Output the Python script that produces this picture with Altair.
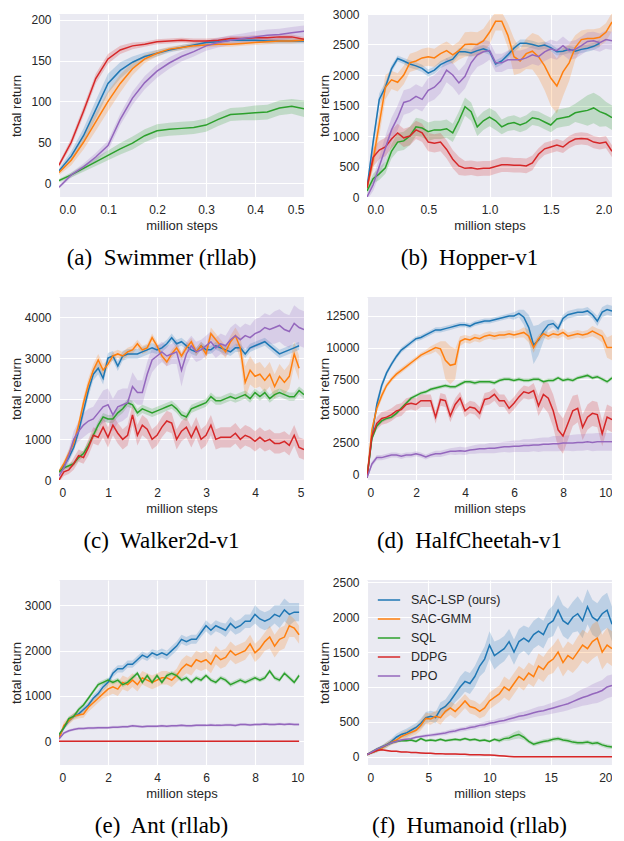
import altair as alt
import pandas as pd

METHODS = ["SAC-LSP (ours)", "SAC-GMM", "SQL", "DDPG", "PPO"]
COLORS = ["#1f77b4", "#ff7f0e", "#2ca02c", "#d62728", "#9467bd"]

# ---------------- (a) Swimmer (rllab): x step 0.025 million steps ----------------
SW_STEP = 0.025
SW_LSP = [15, 33, 58, 90, 122, 138, 148, 155, 159, 163, 166, 169, 172, 173, 175, 175, 175, 174, 174, 174, 174]
SW_LSP_B = [3, 6, 9, 11, 12, 10, 7, 5, 4, 3, 3, 3, 3, 3, 3, 3, 3, 3, 3, 3, 3]
SW_GMM = [13, 28, 50, 75, 100, 122, 140, 152, 159, 164, 166, 168, 169, 170, 170, 171, 172, 173, 174, 174, 175]
SW_GMM_B = [3, 6, 9, 11, 12, 11, 8, 5, 4, 3, 3, 3, 3, 3, 3, 3, 3, 3, 3, 3, 3]
SW_SQL = [3, 10, 18, 26, 34, 42, 49, 58, 64, 66, 67, 68, 71, 78, 84, 85, 86, 87, 92, 94, 91]
SW_SQL_B = [2, 3, 4, 5, 6, 7, 8, 8, 8, 8, 8, 8, 8, 8, 8, 8, 9, 9, 9, 9, 10]
SW_DDPG = [22, 50, 88, 128, 152, 163, 168, 170, 173, 174, 175, 174, 174, 175, 177, 177, 178, 178, 179, 179, 176]
SW_DDPG_B = [3, 5, 6, 6, 6, 5, 4, 3, 3, 3, 3, 3, 3, 3, 3, 3, 3, 3, 3, 3, 3]
SW_PPO = [-5, 10, 20, 32, 46, 78, 104, 123, 137, 147, 155, 161, 168, 172, 175, 177, 179, 181, 182, 184, 186]
SW_PPO_B = [2, 3, 4, 5, 6, 7, 8, 8, 8, 7, 6, 6, 6, 6, 6, 6, 7, 7, 7, 7, 7]

# ---------------- (b) Hopper-v1: x step 0.05 ----------------
HO_STEP = 0.05
HO_LSP = [150, 900, 1600, 1800, 2100, 2270, 2230, 2180, 2150, 2110,
          2030, 2080, 2170, 2220, 2260, 2380, 2380, 2360, 2400, 2430,
          2390, 2180, 2230, 2330, 2440, 2520, 2520, 2500, 2470, 2490,
          2450, 2380, 2390, 2420, 2390, 2420, 2440, 2470, 2520]
HO_LSP_B = [50, 100, 100, 80, 60, 50, 50, 60, 60, 60,
            60, 60, 60, 60, 60, 60, 60, 60, 60, 60,
            60, 60, 60, 60, 60, 60, 60, 60, 60, 60,
            60, 60, 60, 60, 60, 60, 60, 60, 60]
HO_GMM = [150, 600, 1200, 1800, 1920, 1880, 2000, 2200, 2230, 2280,
          2300, 2280, 2350, 2400, 2330, 2400, 2500, 2510, 2500, 2560,
          2700, 2880, 2880, 2650, 2300, 2230, 2350, 2390, 2300, 2150,
          1950, 1820, 2050, 2200, 2450, 2580, 2600, 2600, 2620, 2700, 2870]
HO_GMM_B = [50, 150, 200, 200, 150, 150, 150, 150, 150, 150,
            150, 150, 150, 150, 150, 150, 200, 200, 200, 200,
            200, 150, 150, 200, 300, 200, 250, 300, 350, 400,
            450, 450, 400, 300, 200, 150, 150, 150, 150, 150, 150]
HO_SQL = [100, 300, 380, 480, 750, 900, 920, 1000, 1150, 1130,
          1070, 1100, 1100, 1120, 1050, 1250, 1480, 1400, 1150, 1250,
          1310, 1250, 1150, 1200, 1220, 1180, 1220, 1300, 1280, 1230,
          1180, 1280, 1300, 1320, 1380, 1400, 1420, 1460, 1400, 1360, 1300]
HO_SQL_B = [50, 80, 100, 100, 120, 150, 150, 150, 150, 150,
            150, 150, 150, 150, 150, 150, 150, 150, 150, 150,
            150, 150, 120, 120, 120, 120, 120, 120, 120, 120,
            120, 150, 150, 150, 150, 200, 250, 250, 250, 200, 200]
HO_DDPG = [150, 650, 770, 820, 950, 1050, 970, 1000, 1100, 1050,
           900, 880, 900, 780, 620, 510, 470, 480, 460, 470,
           470, 500, 530, 530, 520, 520, 510, 560, 700, 790,
           820, 850, 820, 900, 950, 960, 950, 900, 880, 900, 750]
HO_DDPG_B = [50, 150, 150, 150, 150, 150, 150, 150, 150, 150,
             150, 150, 150, 150, 150, 150, 120, 120, 120, 120,
             120, 120, 120, 120, 120, 120, 120, 120, 100, 100,
             100, 100, 100, 100, 100, 100, 100, 100, 100, 100, 100]
HO_PPO = [0, 200, 500, 800, 1100, 1300, 1550, 1580, 1650, 1600,
          1750, 1800, 1900, 2080, 2000, 1870, 1980, 2200, 2330, 2380,
          2400, 2200, 2200, 2250, 2250, 2250, 2280, 2330, 2300, 2380,
          2430, 2400, 2480, 2400, 2420, 2480, 2550, 2560, 2530, 2580, 2560]
HO_PPO_B = [50, 100, 150, 200, 200, 200, 200, 200, 200, 200,
            200, 200, 200, 200, 200, 200, 200, 200, 200, 200,
            150, 150, 150, 150, 150, 150, 150, 150, 150, 150,
            150, 150, 150, 150, 150, 150, 150, 150, 150, 150, 150]

# ---------------- (c) Walker2d-v1: x step 0.1 ----------------
WA_STEP = 0.1
WA_LSP = [200, 350, 550, 800, 1200, 1700, 2200, 2600, 2750, 2500,
          3000, 3050, 2800, 3050, 3100, 3100, 3100, 3150, 3200, 3250,
          3200, 3250, 3350, 3500, 3350, 3400, 3300, 3200, 3150, 3300,
          3200, 3200, 3300, 3250, 3200, 3150, 3250, 3250, 3100, 3250,
          3300, 3350, 3400, 3300, 3200, 3100, 3150, 3200, 3250, 3300]
WA_LSP_B = [50, 80, 100, 100, 120, 150, 150, 150, 150, 150,
            120, 120, 120, 120, 120, 120, 120, 120, 120, 120,
            100, 100, 100, 100, 100, 100, 100, 100, 100, 100,
            100, 100, 100, 100, 100, 100, 100, 100, 100, 100,
            100, 100, 100, 100, 100, 100, 100, 100, 100, 100]
WA_GMM = [200, 400, 650, 900, 1350, 1900, 2350, 2700, 2950, 2700,
          2850, 3050, 3100, 3050, 3150, 3200, 3350, 3200, 3250, 3500,
          3300, 3050, 2900, 3100, 3250, 3050, 3250, 3400, 3150, 3300,
          3100, 3600, 3450, 3300, 3150, 3400, 3550, 3250, 2400, 2700,
          2550, 2600, 2450, 2600, 2300, 2550, 2400, 2550, 3100, 2750]
WA_GMM_B = [50, 80, 100, 100, 120, 150, 150, 150, 150, 150,
            100, 100, 100, 100, 100, 100, 100, 100, 100, 100,
            100, 100, 100, 100, 100, 100, 100, 100, 100, 100,
            150, 150, 150, 150, 150, 150, 200, 300, 400, 350,
            300, 300, 300, 300, 300, 300, 300, 300, 300, 300]
WA_SQL = [200, 300, 350, 400, 550, 650, 850, 1100, 1350, 1550,
          1500, 1500, 1650, 1750, 1900, 1850, 1650, 1750, 1700, 1650,
          1700, 1750, 1800, 1850, 1750, 1600, 1550, 1750, 1800, 1850,
          1900, 2050, 1950, 1950, 2000, 2050, 2000, 2050, 2100, 2000,
          2150, 2050, 2150, 2000, 2100, 2150, 2100, 2050, 2050, 2200, 2100]
WA_SQL_B = [30, 50, 60, 60, 80, 80, 100, 100, 100, 100,
            100, 100, 100, 100, 100, 100, 100, 100, 100, 100,
            100, 100, 100, 100, 100, 100, 100, 100, 100, 100,
            100, 100, 100, 100, 100, 100, 100, 100, 100, 100,
            100, 100, 100, 100, 100, 100, 100, 100, 100, 100, 100]
WA_DDPG = [0, 200, 250, 400, 600, 550, 800, 1100, 1050, 1300,
           1050, 1350, 1150, 1000, 1100, 1600, 1100, 1350, 1250, 1000,
           1100, 1300, 1450, 1400, 1000, 1200, 1300, 1050, 1300, 1000,
           1100, 1350, 1000, 1050, 1050, 1050, 1150, 1000, 1100, 1050,
           950, 1050, 950, 1000, 900, 900, 950, 850, 1100, 800, 750]
WA_DDPG_B = [50, 100, 100, 150, 150, 150, 200, 200, 200, 250,
             250, 250, 250, 250, 250, 250, 250, 250, 250, 250,
             250, 250, 250, 250, 250, 250, 250, 250, 250, 250,
             250, 250, 250, 250, 250, 250, 250, 250, 250, 250,
             250, 250, 250, 250, 250, 250, 250, 250, 250, 250, 250]
WA_PPO = [100, 300, 600, 1000, 1200, 1350, 1450, 1500, 1650, 1800,
          1850, 1600, 1800, 1850, 1900, 2300, 2150, 2150, 2600, 2950,
          3050, 3150, 3050, 3100, 3150, 2700, 3100, 3300, 3150, 3200,
          3300, 3400, 3250, 3350, 3300, 3450, 3550, 3450, 3550, 3500,
          3600, 3650, 3750, 3700, 3750, 3800, 3700, 3650, 3850, 3750, 3700]
WA_PPO_B = [50, 100, 150, 200, 250, 300, 300, 300, 350, 400,
            400, 400, 400, 400, 350, 350, 300, 300, 300, 300,
            250, 250, 250, 250, 300, 400, 300, 250, 250, 250,
            250, 250, 250, 250, 250, 300, 300, 300, 300, 300,
            350, 350, 350, 350, 400, 400, 400, 400, 450, 450, 450]

# ---------------- (d) HalfCheetah-v1: x step 0.2 ----------------
HC_STEP = 0.2
HC_LSP = [-300, 3000, 5500, 7000, 8000, 8700, 9300, 9800, 10100, 10400,
          10700, 10800, 11000, 11200, 11400, 11400, 11500, 11600, 11700, 11800,
          11800, 11700, 11900, 12000, 12100, 12100, 12200, 12300, 12400, 12500,
          12500, 12700, 12400, 11600, 10200, 10600, 11300, 11800, 11900, 11500,
          12300, 12600, 12700, 12800, 12800, 12900, 12600, 12100, 12800, 13000, 12900]
HC_LSP_B = [100, 300, 400, 300, 200, 200, 200, 200, 200, 200,
            200, 200, 200, 200, 200, 200, 200, 200, 200, 200,
            200, 200, 200, 200, 200, 200, 200, 200, 200, 200,
            300, 300, 600, 1000, 1500, 1200, 800, 400, 300, 300,
            300, 300, 300, 300, 300, 300, 300, 400, 400, 400, 400]
HC_GMM = [-300, 3500, 5200, 6200, 7000, 7500, 7900, 8200, 8500, 8800,
          9100, 9400, 9600, 9800, 10000, 9900, 9000, 8600, 8700, 10500,
          10700, 10600, 10800, 10700, 10900, 11000, 10900, 11000, 11000, 11100,
          11000, 11100, 11200, 10900, 10000, 10700, 11100, 10900, 11100, 11000,
          11200, 10900, 11000, 11100, 11000, 11100, 11300, 11100, 10900, 10000, 10000]
HC_GMM_B = [100, 300, 300, 300, 200, 200, 200, 200, 200, 200,
            200, 200, 200, 300, 300, 600, 1500, 1500, 1200, 400,
            300, 300, 300, 300, 300, 300, 300, 300, 300, 300,
            300, 300, 400, 500, 400, 300, 300, 300, 300, 300,
            300, 300, 300, 300, 300, 300, 400, 400, 500, 800, 1000]
HC_SQL = [-300, 2800, 3800, 4200, 4400, 4500, 4800, 5200, 5600, 6000,
          6200, 6400, 6500, 6700, 6800, 6900, 7000, 6900, 6900, 7100,
          7300, 7300, 7200, 7300, 7300, 7300, 7200, 7400, 7500, 7500,
          7400, 7500, 7400, 7400, 7500, 7500, 7300, 7400, 7400, 7600,
          7400, 7500, 7400, 7600, 7700, 7800, 7600, 7700, 7500, 7300, 7600]
HC_SQL_B = [100, 150, 150, 150, 150, 150, 150, 150, 150, 150,
            150, 150, 150, 150, 150, 150, 150, 150, 150, 150,
            150, 150, 150, 150, 150, 150, 150, 150, 150, 150,
            150, 150, 150, 150, 150, 150, 150, 150, 150, 150,
            150, 150, 150, 150, 150, 150, 150, 150, 150, 150, 150]
HC_DDPG = [-300, 3000, 4000, 4400, 4500, 4700, 5000, 5100, 5500, 5600,
           5500, 5800, 5800, 5800, 4500, 5900, 5800, 4600, 5500, 6000,
           5000, 5300, 5200, 4800, 5900, 6000, 6300, 5800, 5800, 5200,
           5600, 6100, 6500, 6400, 6600, 5400, 6300, 6000, 5000, 3500,
           3000, 4000, 5000, 5200, 3700, 4500, 4800, 4700, 3200, 4500, 4300]
HC_DDPG_B = [100, 300, 500, 500, 500, 500, 500, 500, 500, 500,
             500, 500, 500, 500, 500, 500, 500, 500, 500, 500,
             500, 500, 500, 500, 500, 500, 500, 500, 500, 500,
             500, 500, 500, 500, 600, 800, 1000, 1200, 1300, 1400,
             1400, 1300, 1200, 1100, 1000, 1000, 1000, 1000, 1000, 1000, 1000]
HC_PPO = [-300, 800, 1300, 1300, 1400, 1500, 1500, 1400, 1500, 1500,
          1600, 1500, 1350, 1500, 1600, 1600, 1700, 1800, 1800, 1850,
          1800, 1900, 1950, 2000, 2000, 2050, 2050, 2100, 2150, 2150,
          2200, 2200, 2250, 2250, 2300, 2300, 2350, 2350, 2400, 2400,
          2450, 2450, 2450, 2500, 2500, 2550, 2500, 2550, 2550, 2550, 2550]
HC_PPO_B = [100, 200, 200, 200, 200, 200, 200, 200, 200, 200,
            200, 200, 200, 200, 250, 250, 250, 250, 300, 300,
            300, 300, 350, 350, 350, 400, 400, 400, 400, 450,
            450, 450, 500, 500, 500, 550, 550, 550, 600, 600,
            600, 600, 650, 650, 650, 650, 700, 700, 700, 700, 700]

# ---------------- (e) Ant (rllab): x step 0.2 ----------------
ANT_STEP = 0.2
ANT_LSP = [100, 300, 450, 550, 600, 700, 800, 950, 1050, 1200,
           1300, 1500, 1600, 1600, 1700, 1700, 1800, 1900, 1850, 1950,
           1900, 1950, 1900, 2000, 2100, 2250, 2200, 2250, 2250, 2400,
           2550, 2450, 2550, 2500, 2450, 2600, 2500, 2550, 2650, 2650,
           2800, 2700, 2650, 2700, 2800, 2750, 2900, 2800, 2850, 2850]
ANT_LSP_B = [30, 50, 60, 60, 60, 60, 70, 70, 80, 80,
             80, 80, 80, 80, 80, 80, 80, 80, 80, 80,
             100, 100, 100, 100, 100, 100, 100, 100, 100, 100,
             120, 120, 120, 120, 150, 150, 150, 150, 150, 150,
             200, 200, 200, 200, 200, 250, 250, 250, 200, 200]
ANT_GMM = [50, 350, 450, 550, 580, 600, 750, 850, 950, 1050,
           1150, 1200, 1150, 1300, 1250, 1350, 1250, 1400, 1350, 1300,
           1350, 1400, 1400, 1350, 1450, 1600, 1700, 1650, 1800, 1750,
           1800, 1700, 1900, 1800, 1850, 2000, 1900, 1950, 2000, 2150,
           1950, 2050, 2200, 2300, 2100, 2250, 2300, 2550, 2500, 2350]
ANT_GMM_B = [30, 80, 80, 80, 80, 80, 100, 100, 100, 100,
             150, 150, 150, 150, 150, 150, 150, 150, 150, 150,
             150, 150, 150, 150, 150, 200, 200, 200, 200, 200,
             200, 200, 200, 200, 200, 200, 200, 200, 200, 200,
             200, 200, 200, 250, 250, 250, 250, 250, 200, 200]
ANT_SQL = [150, 300, 500, 550, 700, 800, 950, 1100, 1250, 1300,
           1350, 1300, 1350, 1250, 1300, 1400, 1500, 1300, 1450, 1300,
           1450, 1300, 1450, 1500, 1450, 1350, 1400, 1300, 1400, 1350,
           1450, 1350, 1300, 1400, 1350, 1250, 1300, 1350, 1300, 1350,
           1400, 1350, 1400, 1550, 1400, 1350, 1500, 1400, 1300, 1450]
ANT_SQL_B = [30, 50, 50, 50, 50, 50, 50, 50, 50, 50,
             50, 50, 50, 50, 50, 50, 50, 50, 50, 50,
             50, 50, 50, 50, 50, 50, 50, 50, 50, 50,
             50, 50, 50, 50, 50, 50, 50, 50, 50, 50,
             50, 50, 50, 50, 50, 50, 50, 50, 50, 50]
ANT_DDPG = [0, 0, 0, 0, 0, 0, 0, 0, 0, 0,
            0, 0, 0, 0, 0, 0, 0, 0, 0, 0,
            0, 0, 0, 0, 0, 0, 0, 0, 0, 0,
            0, 0, 0, 0, 0, 0, 0, 0, 0, 0,
            0, 0, 0, 0, 0, 0, 0, 0, 0, 0]
ANT_DDPG_B = [12, 12, 12, 12, 12, 12, 12, 12, 12, 12,
              12, 12, 12, 12, 12, 12, 12, 12, 12, 12,
              12, 12, 12, 12, 12, 12, 12, 12, 12, 12,
              12, 12, 12, 12, 12, 12, 12, 12, 12, 12,
              12, 12, 12, 12, 12, 12, 12, 12, 12, 12]
ANT_PPO = [50, 180, 230, 260, 280, 280, 290, 290, 300, 300,
           300, 310, 310, 320, 320, 340, 330, 320, 330, 330,
           330, 340, 330, 340, 340, 350, 340, 340, 350, 350,
           350, 360, 350, 350, 360, 360, 350, 370, 370, 360,
           370, 370, 380, 370, 370, 380, 370, 380, 370, 370]
ANT_PPO_B = [20, 30, 30, 30, 30, 30, 30, 30, 30, 30,
             30, 30, 30, 30, 30, 30, 30, 30, 30, 30,
             30, 30, 30, 30, 30, 30, 30, 30, 30, 30,
             30, 30, 30, 30, 30, 30, 30, 30, 30, 30,
             30, 30, 30, 30, 30, 30, 30, 30, 30, 30]

# ---------------- (f) Humanoid (rllab): x step 0.4 ----------------
HU_STEP = 0.4
HU_LSP = [30, 60, 90, 130, 170, 220, 280, 320, 340, 380,
          420, 480, 560, 580, 560, 680, 720, 800, 900, 1000,
          1080, 1050, 1150, 1300, 1400, 1600, 1450, 1500, 1550, 1650,
          1500, 1650, 1700, 1650, 1750, 1800, 1750, 1900, 1950, 2100,
          1950, 1900, 2000, 2050, 1950, 2150, 2000, 1950, 2050, 2100, 1900]
HU_LSP_B = [20, 20, 30, 30, 40, 40, 50, 50, 60, 60,
            60, 70, 80, 80, 80, 100, 100, 120, 120, 150,
            150, 150, 150, 150, 180, 200, 200, 180, 180, 180,
            180, 180, 180, 200, 200, 200, 200, 200, 220, 220,
            220, 220, 220, 250, 250, 250, 250, 250, 250, 250, 250]
HU_GMM = [30, 60, 90, 120, 170, 210, 240, 290, 320, 350,
          380, 450, 550, 540, 580, 560, 650, 700, 650, 720,
          800, 720, 700, 650, 700, 800, 850, 900, 1000, 950,
          1050, 1150, 1100, 1200, 1150, 1300, 1250, 1350, 1400, 1500,
          1350, 1450, 1400, 1500, 1600, 1550, 1650, 1700, 1500, 1600, 1550]
HU_GMM_B = [20, 20, 30, 30, 40, 40, 50, 50, 60, 60,
            60, 70, 80, 80, 80, 100, 100, 100, 100, 100,
            100, 100, 100, 100, 120, 120, 120, 120, 150, 150,
            150, 150, 150, 150, 150, 180, 180, 180, 200, 200,
            200, 200, 200, 220, 220, 220, 250, 250, 250, 250, 250]
HU_SQL = [30, 70, 110, 140, 170, 200, 220, 230, 230, 240,
          220, 260, 230, 240, 230, 250, 230, 240, 250, 240,
          260, 240, 250, 230, 240, 220, 250, 230, 260, 270,
          300, 320, 280, 220, 180, 200, 220, 230, 250, 260,
          240, 230, 210, 200, 200, 210, 190, 200, 170, 150, 140]
HU_SQL_B = [10, 20, 20, 20, 20, 20, 20, 20, 20, 20,
            20, 20, 20, 20, 20, 20, 20, 20, 20, 20,
            20, 20, 20, 20, 20, 20, 20, 30, 30, 40,
            50, 60, 40, 30, 30, 30, 30, 30, 30, 30,
            30, 30, 30, 30, 30, 30, 30, 30, 30, 30, 30]
HU_DDPG = [30, 60, 90, 100, 90, 80, 80, 70, 70, 60,
           60, 55, 50, 50, 45, 45, 40, 40, 40, 35,
           35, 30, 30, 30, 25, 25, 20, 15, 10, 5,
           0, 0, 0, 0, 0, 0, 0, 0, 0, 0,
           0, 0, 0, 0, 0, 0, 0, 0, 0, 0, 0]
HU_DDPG_B = [10, 10, 10, 10, 10, 10, 10, 10, 10, 10,
             10, 10, 10, 10, 10, 10, 10, 10, 10, 10,
             10, 10, 10, 10, 10, 10, 10, 10, 10, 10,
             10, 10, 10, 10, 10, 10, 10, 10, 10, 10,
             10, 10, 10, 10, 10, 10, 10, 10, 10, 10, 10]
HU_PPO = [30, 70, 110, 140, 170, 200, 220, 240, 250, 260,
          280, 290, 300, 310, 320, 330, 340, 360, 370, 390,
          400, 420, 430, 450, 460, 480, 490, 510, 520, 540,
          560, 580, 590, 610, 630, 650, 660, 680, 700, 720,
          740, 760, 790, 820, 850, 870, 900, 920, 950, 1000, 1020]
HU_PPO_B = [10, 20, 20, 20, 20, 20, 20, 20, 20, 20,
            20, 20, 25, 25, 25, 25, 30, 30, 30, 30,
            30, 35, 35, 35, 40, 40, 40, 45, 45, 50,
            50, 55, 60, 60, 65, 70, 70, 75, 80, 85,
            90, 95, 100, 110, 120, 130, 140, 150, 150, 160, 160]

TEXT = "#262626"
SANS = "Liberation Sans"


def build(step, series):
    rows = []
    for name, vals, band in series:
        for i, (v, b) in enumerate(zip(vals, band)):
            rows.append({"x": round(i * step, 4), "y": v, "lo": v - b, "hi": v + b, "m": name})
    return pd.DataFrame(rows)


def panel(df, caption, xdom, ydom, xticks, yticks, xfmt, h, legend=None):
    xs = alt.Scale(domain=xdom, nice=False, zero=False)
    ys = alt.Scale(domain=ydom, nice=False, zero=False)
    xa = alt.Axis(values=xticks, format=xfmt, title="million steps", labelPadding=7,
                  titleY=22, titleBaseline="top")
    ya = alt.Axis(values=yticks, format="d", title="total return", labelPadding=8,
                  titleX=-43, titleBaseline="middle")
    fill = alt.Fill("m:N", scale=alt.Scale(domain=METHODS, range=COLORS), legend=None)
    color = alt.Color("m:N", scale=alt.Scale(domain=METHODS, range=COLORS), legend=legend)
    band = alt.Chart(df).mark_area(fillOpacity=0.22, clip=True).encode(
        x=alt.X("x:Q", scale=xs, axis=xa),
        y=alt.Y("lo:Q", scale=ys, axis=ya),
        y2="hi:Q",
        fill=fill,
        detail="m:N",
    )
    line = alt.Chart(df).mark_line(strokeWidth=1.5, clip=True).encode(
        x=alt.X("x:Q", scale=xs, axis=xa),
        y=alt.Y("y:Q", scale=ys, axis=ya),
        color=color,
    )
    return alt.layer(band, line).properties(
        width=245, height=h,
        title=alt.TitleParams(caption, orient="bottom", font="Liberation Serif", fontSize=23,
                              fontWeight="normal", color="black", offset=15, anchor="middle",
                              dx=-20),
    ).resolve_scale(fill="independent", color="independent")


pa = panel(build(SW_STEP, [(METHODS[0], SW_LSP, SW_LSP_B), (METHODS[1], SW_GMM, SW_GMM_B),
                           (METHODS[2], SW_SQL, SW_SQL_B), (METHODS[3], SW_DDPG, SW_DDPG_B),
                           (METHODS[4], SW_PPO, SW_PPO_B)]),
           "(a)\u00a0 Swimmer (rllab)", [0, 0.5], [-17, 207],
           [0, 0.1, 0.2, 0.3, 0.4, 0.5], [0, 50, 100, 150, 200], ".1f", 183)
pb = panel(build(HO_STEP, [(METHODS[0], HO_LSP, HO_LSP_B), (METHODS[1], HO_GMM, HO_GMM_B),
                           (METHODS[2], HO_SQL, HO_SQL_B), (METHODS[3], HO_DDPG, HO_DDPG_B),
                           (METHODS[4], HO_PPO, HO_PPO_B)]),
           "(b)\u00a0 Hopper-v1", [0, 2.0], [0, 3000],
           [0, 0.5, 1.0, 1.5, 2.0], [0, 500, 1000, 1500, 2000, 2500, 3000], ".1f", 183)
pc = panel(build(WA_STEP, [(METHODS[0], WA_LSP, WA_LSP_B), (METHODS[1], WA_GMM, WA_GMM_B),
                           (METHODS[2], WA_SQL, WA_SQL_B), (METHODS[3], WA_DDPG, WA_DDPG_B),
                           (METHODS[4], WA_PPO, WA_PPO_B)]),
           "(c)\u00a0 Walker2d-v1", [0, 5], [0, 4500],
           [0, 1, 2, 3, 4, 5], [0, 1000, 2000, 3000, 4000], "d", 183)
pd_ = panel(build(HC_STEP, [(METHODS[0], HC_LSP, HC_LSP_B), (METHODS[1], HC_GMM, HC_GMM_B),
                            (METHODS[2], HC_SQL, HC_SQL_B), (METHODS[3], HC_DDPG, HC_DDPG_B),
                            (METHODS[4], HC_PPO, HC_PPO_B)]),
            "(d)\u00a0 HalfCheetah-v1", [0, 10], [-470, 14000],
            [0, 2, 4, 6, 8, 10], [0, 2500, 5000, 7500, 10000, 12500], "d", 183)
pe = panel(build(ANT_STEP, [(METHODS[0], ANT_LSP, ANT_LSP_B), (METHODS[1], ANT_GMM, ANT_GMM_B),
                            (METHODS[2], ANT_SQL, ANT_SQL_B), (METHODS[3], ANT_DDPG, ANT_DDPG_B),
                            (METHODS[4], ANT_PPO, ANT_PPO_B)]),
           "(e)\u00a0 Ant (rllab)", [0, 10], [-525, 3560],
           [0, 2, 4, 6, 8, 10], [0, 1000, 2000, 3000], "d", 185)
legend_f = alt.Legend(orient="none", legendX=10, legendY=8, title=None, symbolType="stroke",
                      symbolSize=500, symbolStrokeWidth=1.5, symbolOpacity=1,
                      labelFont=SANS, labelFontSize=12.5, labelColor=TEXT, labelOffset=10,
                      rowPadding=-7, padding=0)
pf = panel(build(HU_STEP, [(METHODS[0], HU_LSP, HU_LSP_B), (METHODS[1], HU_GMM, HU_GMM_B),
                           (METHODS[2], HU_SQL, HU_SQL_B), (METHODS[3], HU_DDPG, HU_DDPG_B),
                           (METHODS[4], HU_PPO, HU_PPO_B)]),
           "(f)\u00a0 Humanoid (rllab)", [0, 20], [-118, 2533],
           [0, 5, 10, 15, 20], [0, 500, 1000, 1500, 2000, 2500], "d", 185, legend=legend_f)

chart = alt.concat(pa, pb, pc, pd_, pe, pf, columns=2,
                   spacing={"row": 100, "column": 63}, bounds="flush").resolve_scale(
    color="independent", fill="independent", x="independent", y="independent"
).properties(
    padding={"left": 2, "top": 0, "right": 0, "bottom": 0}
).configure_view(
    fill="#EAEAF2", stroke=None
).configure_axis(
    grid=True, gridColor="white", gridWidth=1.1, domain=False, ticks=False, tickSize=0,
    labelFont=SANS, labelFontSize=12, labelColor=TEXT,
    titleFont=SANS, titleFontSize=13, titleFontWeight="normal", titleColor=TEXT,
)

chart.save("out.html", embed_options={"renderer": "svg", "actions": False})
